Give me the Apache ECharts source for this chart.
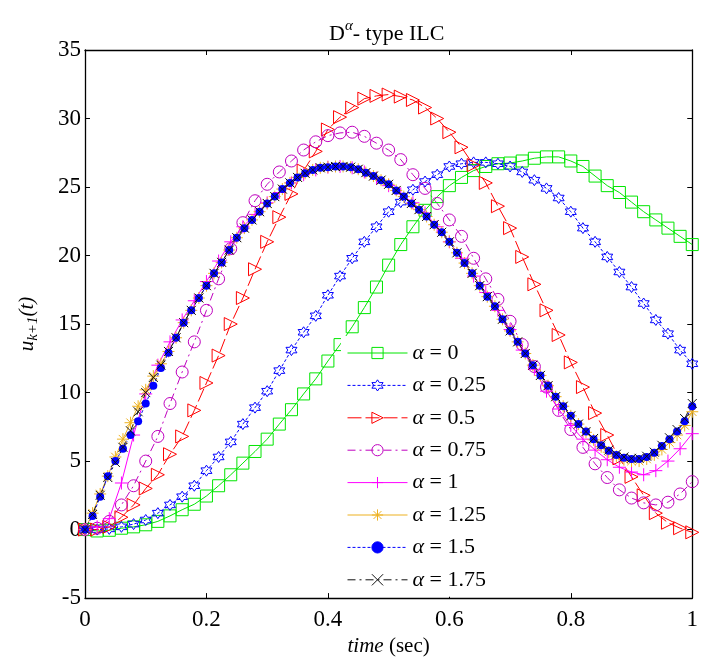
<!DOCTYPE html>
<html>
<head>
<meta charset="utf-8">
<script src="https://cdn.jsdelivr.net/npm/echarts@6/dist/echarts.min.js"></script>
<style>
  html, body { margin: 0; padding: 0; background: #fff; }
</style>
</head>
<body>
<div id="main" style="width: 701px;height:662px;"></div>
<script>
// time grids (sec)
var tCoarse = [0, 0.02, 0.04, 0.06, 0.08, 0.1, 0.12, 0.14, 0.16, 0.18, 0.2, 0.22, 0.24, 0.26, 0.28, 0.3, 0.32, 0.34, 0.36, 0.38, 0.4,
  0.42, 0.44, 0.46, 0.48, 0.5, 0.52, 0.54, 0.56, 0.58, 0.6, 0.62, 0.64, 0.66, 0.68, 0.7, 0.72, 0.74, 0.76, 0.78, 0.8,
  0.82, 0.84, 0.86, 0.88, 0.9, 0.92, 0.94, 0.96, 0.98, 1];
var tFine = [0, 0.0125, 0.025, 0.0375, 0.05, 0.0625, 0.075, 0.0875, 0.1, 0.1125, 0.125, 0.1375, 0.15, 0.1625, 0.175, 0.1875,
  0.2, 0.2125, 0.225, 0.2375, 0.25, 0.2625, 0.275, 0.2875, 0.3, 0.3125, 0.325, 0.3375, 0.35, 0.3625, 0.375, 0.3875,
  0.4, 0.4125, 0.425, 0.4375, 0.45, 0.4625, 0.475, 0.4875, 0.5, 0.5125, 0.525, 0.5375, 0.55, 0.5625, 0.575, 0.5875,
  0.6, 0.6125, 0.625, 0.6375, 0.65, 0.6625, 0.675, 0.6875, 0.7, 0.7125, 0.725, 0.7375, 0.75, 0.7625, 0.775, 0.7875,
  0.8, 0.8125, 0.825, 0.8375, 0.85, 0.8625, 0.875, 0.8875, 0.9, 0.9125, 0.925, 0.9375, 0.95, 0.9625, 0.975, 0.9875, 1];

var xTicks = [0, 0.2, 0.4, 0.6, 0.8, 1];
var yTicks = [-5, 0, 5, 10, 15, 20, 25, 30, 35];

// u_{k+1}(t) for each alpha
var alpha0 = [0, -0.1, -0.05, 0.1, 0.2, 0.35, 0.6, 1.0, 1.45, 1.85, 2.45, 3.2, 4.0, 4.85, 5.7, 6.6, 7.7, 8.75, 9.9, 11.0, 12.3,
  13.5, 14.8, 16.2, 17.7, 19.3, 20.8, 22.1, 23.3, 24.3, 25.1, 25.7, 26.2, 26.5, 26.7, 26.75, 26.9, 27.1, 27.2, 27.2, 26.9,
  26.5, 25.8, 25.1, 24.6, 23.9, 23.2, 22.6, 22.0, 21.4, 20.8];
var alpha025 = [0, 0, 0.05, 0.2, 0.4, 0.7, 1.2, 1.8, 2.4, 3.2, 4.3, 5.3, 6.4, 7.7, 8.9, 10.1, 11.6, 13.1, 14.4, 15.6, 17.1,
  18.5, 19.8, 21.0, 22.1, 23.2, 23.9, 24.8, 25.4, 25.9, 26.5, 26.7, 26.8, 26.8, 26.7, 26.5, 26.1, 25.5, 24.9, 24.2, 23.2,
  22.0, 21.0, 19.9, 18.8, 17.7, 16.5, 15.3, 14.3, 13.1, 12.1];
var alpha05 = [0, 0, 0.2, 0.9, 1.8, 3.0, 4.0, 5.5, 6.8, 8.7, 10.7, 12.7, 15.0, 16.9, 19.0, 21.0, 22.8, 24.5, 26.2, 27.6, 29.2,
  30.1, 30.8, 31.45, 31.65, 31.75, 31.6, 31.35, 30.8, 30.0, 29.0, 27.9, 26.6, 25.3, 23.6, 22.0, 19.9, 17.9, 16.0, 14.2, 12.2,
  10.4, 8.5, 6.9, 5.2, 3.85, 2.5, 1.2, 0.5, 0.1, -0.2];
var alpha075 = [0, 0.1, 0.6, 1.8, 3.2, 5.0, 6.8, 9.2, 11.5, 13.7, 16.0, 18.3, 20.5, 22.4, 24.0, 25.2, 26.1, 26.9, 27.7, 28.3, 28.75,
  28.95, 29.0, 28.7, 28.2, 27.7, 27.0, 25.9, 24.9, 23.8, 22.6, 21.4, 19.8, 18.3, 16.8, 15.2, 13.5, 11.9, 10.4, 8.7, 7.3,
  6.0, 4.8, 3.8, 2.9, 2.3, 1.95, 1.8, 2.0, 2.6, 3.5];
var alpha1 = [0, 0.2, 0.8, 3.4, 6.9, 9.9, 12.0, 13.7, 15.3, 16.7, 18.1, 19.6, 21.0, 22.1, 23.0, 23.85, 24.6, 25.3, 25.9, 26.25, 26.45,
  26.5, 26.4, 26.1, 25.65, 25.1, 24.5, 23.85, 23.1, 22.1, 21.0, 19.8, 18.5, 17.3, 16.0, 14.6, 13.1, 11.7, 10.1, 8.8, 7.6,
  6.6, 5.8, 5.1, 4.55, 4.2, 4.0, 4.3, 5.0, 5.9, 7.0];
var alpha125 = [0, 1.2, 2.6, 3.9, 5.3, 6.6, 7.8, 9.0, 10.2, 11.2, 12.1, 13.0, 14.0, 15.1, 16.0, 16.9,
  17.8, 18.7, 19.5, 20.4, 21.3, 22.0, 22.6, 23.2, 23.8, 24.3, 24.85, 25.3, 25.7, 26.0, 26.25, 26.4,
  26.45, 26.5, 26.5, 26.45, 26.3, 26.05, 25.8, 25.5, 25.2, 24.75, 24.3, 23.8, 23.35, 22.85, 22.25, 21.7,
  21.0, 20.2, 19.45, 18.7, 17.8, 17.0, 16.3, 15.35, 14.5, 13.7, 12.85, 12.0, 11.25, 10.5, 9.7, 9.0,
  8.3, 7.7, 7.1, 6.55, 6.05, 5.65, 5.35, 5.1, 5.0, 5.0, 5.15, 5.45, 5.85, 6.35, 6.9, 7.6, 8.6];
var alpha15 = [0, 1.0, 2.4, 3.9, 5.0, 5.9, 6.9, 7.9, 9.2, 10.5, 11.8, 12.9, 14.0, 15.1, 16.0, 16.9,
  17.8, 18.7, 19.5, 20.4, 21.3, 22.0, 22.6, 23.2, 23.8, 24.3, 24.85, 25.3, 25.7, 26.0, 26.25, 26.4,
  26.45, 26.5, 26.5, 26.45, 26.3, 26.05, 25.8, 25.5, 25.2, 24.75, 24.3, 23.8, 23.35, 22.85, 22.25, 21.7,
  21.0, 20.2, 19.45, 18.7, 17.8, 17.0, 16.3, 15.35, 14.5, 13.7, 12.85, 12.0, 11.25, 10.5, 9.7, 9.0,
  8.3, 7.7, 7.15, 6.6, 6.15, 5.75, 5.45, 5.25, 5.15, 5.15, 5.3, 5.6, 6.1, 6.6, 7.15, 7.9, 9.0];
var alpha175 = [0, 1.1, 2.5, 3.8, 4.9, 6.0, 7.2, 8.6, 10.0, 11.1, 12.0, 13.0, 14.0, 15.1, 16.0, 16.9,
  17.8, 18.7, 19.5, 20.4, 21.3, 22.0, 22.6, 23.2, 23.8, 24.3, 24.85, 25.3, 25.7, 26.0, 26.25, 26.4,
  26.45, 26.5, 26.5, 26.45, 26.3, 26.05, 25.8, 25.5, 25.2, 24.75, 24.3, 23.8, 23.35, 22.85, 22.25, 21.7,
  21.0, 20.2, 19.45, 18.7, 17.8, 17.0, 16.3, 15.35, 14.5, 13.7, 12.85, 12.0, 11.25, 10.5, 9.7, 9.0,
  8.3, 7.7, 7.15, 6.65, 6.2, 5.8, 5.5, 5.3, 5.2, 5.2, 5.35, 5.65, 6.15, 6.7, 7.3, 8.1, 9.2];

var names = ['α = 0', 'α = 0.25', 'α = 0.5', 'α = 0.75', 'α = 1', 'α = 1.25', 'α = 1.5', 'α = 1.75'];

var FONT = 'Liberation Serif, Times New Roman, serif';

// marker shapes
var HEXAGRAM = 'path://M0,-10L2.89,-5L8.66,-5L5.77,0L8.66,5L2.89,5L0,10L-2.89,5L-8.66,5L-5.77,0L-8.66,-5L-2.89,-5Z';
var TRI_RIGHT = 'path://M0,0L10,5L0,10Z';
var PLUS = 'path://M5,0L5,10M0,5L10,5';
var ASTER = 'path://M5,0L5,10M0,5L10,5M1.5,1.5L8.5,8.5M8.5,1.5L1.5,8.5';
var CROSS = 'path://M0,0L10,10M10,0L0,10';

function pairs(t, v) {
  var out = [];
  for (var i = 0; i < v.length; i++) out.push([t[i], v[i]]);
  return out;
}

function mk(name, t, v, color, dash, symbol, size, filled) {
  return {
    name: name,
    type: 'line',
    data: pairs(t, v),
    symbol: symbol,
    symbolSize: size,
    showSymbol: true,
    lineStyle: { color: color, width: 1, type: dash },
    itemStyle: {
      color: filled ? color : 'rgba(0,0,0,0)',
      borderColor: color,
      borderWidth: filled ? 0 : 1
    },
    emphasis: { disabled: true },
    z: 2
  };
}

var myChart = echarts.init(document.getElementById('main'));

var option = {
  animation: false,
  backgroundColor: '#fff',
  title: {
    text: '{n|D}{s|α}{n|- type ILC}',
    left: 324,
    top: 14,
    textStyle: {
      fontWeight: 'normal',
      rich: {
        n: { fontFamily: FONT, fontSize: 22, fontWeight: 'normal', color: '#000' },
        s: { fontFamily: FONT, fontSize: 15, fontStyle: 'italic', fontWeight: 'normal', color: '#000', padding: [0, 0, 16, 0] }
      }
    }
  },
  grid: { left: 85, right: 8, top: 50, bottom: 57, containLabel: false },
  legend: {
    orient: 'vertical',
    left: 341,
    top: 336,
    padding: [6, 8, 6, 6],
    backgroundColor: '#fff',
    itemWidth: 60,
    itemHeight: 14,
    itemGap: 10.4,
    data: names,
    itemStyle: { borderWidth: 1 },
    lineStyle: { width: 1 },
    formatter: function (n) { return n.replace('α', '{a|α}'); },
    textStyle: {
      fontFamily: FONT, fontSize: 22, color: '#000', lineHeight: 22,
      rich: { a: { fontFamily: FONT, fontSize: 22, fontStyle: 'italic', color: '#000', lineHeight: 22 } }
    }
  },
  xAxis: [{
    type: 'value', min: 0, max: 1, interval: 0.2, position: 'bottom',
    name: '{i|time} (sec)',
    nameLocation: 'middle',
    nameGap: 37,
    nameTextStyle: {
      fontFamily: FONT, fontSize: 21, color: '#000',
      rich: { i: { fontFamily: FONT, fontSize: 21, fontStyle: 'italic', color: '#000' } }
    },
    axisLine: { onZero: false, lineStyle: { color: '#000', width: 1.3 } },
    axisTick: { inside: true, length: 5, lineStyle: { color: '#000' } },
    axisLabel: { fontFamily: FONT, fontSize: 23, color: '#000', margin: 10,
      formatter: function (v) { return xTicks.indexOf(+v.toFixed(2)) >= 0 ? String(+v.toFixed(2)) : ''; } },
    splitLine: { show: false }
  }, {
    type: 'value', min: 0, max: 1, interval: 0.2, position: 'top',
    axisLine: { onZero: false, lineStyle: { color: '#000', width: 1.3 } },
    axisTick: { inside: true, length: 5, lineStyle: { color: '#000' } },
    axisLabel: { show: false },
    splitLine: { show: false }
  }],
  yAxis: [{
    type: 'value', min: -5, max: 35, interval: 5, position: 'left',
    name: '{u|u}{b|k+1}{u|(t)}',
    nameLocation: 'middle',
    nameRotate: 90,
    nameGap: 44,
    nameTextStyle: {
      rich: {
        u: { fontFamily: FONT, fontSize: 21, fontStyle: 'italic', color: '#000' },
        b: { fontFamily: FONT, fontSize: 15, fontStyle: 'italic', color: '#000', padding: [12, 0, 0, 0] }
      }
    },
    axisLine: { onZero: false, lineStyle: { color: '#000', width: 1.3 } },
    axisTick: { inside: true, length: 5, lineStyle: { color: '#000' } },
    axisLabel: { fontFamily: FONT, fontSize: 23, color: '#000', margin: 4,
      formatter: function (v) { return yTicks.indexOf(v) >= 0 ? String(v) : ''; } },
    splitLine: { show: false }
  }, {
    type: 'value', min: -5, max: 35, interval: 5, position: 'right',
    axisLine: { onZero: false, lineStyle: { color: '#000', width: 1.3 } },
    axisTick: { inside: true, length: 5, lineStyle: { color: '#000' } },
    axisLabel: { show: false },
    splitLine: { show: false }
  }],
  series: [
    mk(names[0], tCoarse, alpha0, '#00e600', 'solid', 'rect', 12, false),
    mk(names[1], tCoarse, alpha025, '#0000ff', [3, 2], HEXAGRAM, 11, false),
    mk(names[2], tCoarse, alpha05, '#ff0000', [14, 4], TRI_RIGHT, 13, false),
    mk(names[3], tCoarse, alpha075, '#bf00bf', [8, 4, 2, 4], 'circle', 12, false),
    mk(names[4], tCoarse, alpha1, '#ff00ff', 'solid', PLUS, 13, false),
    mk(names[5], tFine, alpha125, '#edb120', 'solid', ASTER, 12, false),
    mk(names[6], tFine, alpha15, '#0000ff', [3, 2], 'circle', 8, true),
    mk(names[7], tFine, alpha175, '#111111', [8, 4, 2, 4], CROSS, 9, false)
  ]
};
myChart.setOption(option);
</script>
</body>
</html>
